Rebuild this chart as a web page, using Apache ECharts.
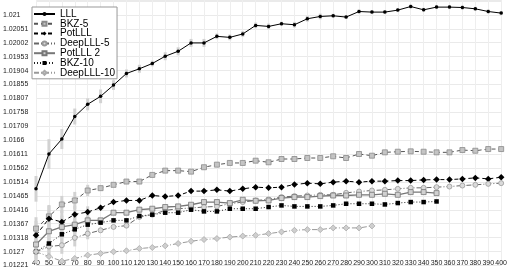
<!DOCTYPE html>
<html>
<head>
<meta charset="utf-8">
<script src="https://cdn.jsdelivr.net/npm/echarts@6/dist/echarts.min.js"></script>
<style>
html, body { margin: 0; padding: 0; background: #fff; }
#chart { width: 510px; height: 269px; }
</style>
</head>
<body>
<div id="chart"></div>
<script>
// x categories (block size)
const xLabels = ['40','50','60','70','80','90','100','110','120','130','140','150','160','170','180','190','200','210','220','230','240','250','260','270','280','290','300','310','320','330','340','350','360','370','380','390','400'];

// y tick labels (ticks every 1/2048)
const yTickLabels = ['1.01221','1.0127','1.01318','1.01367','1.01416','1.01465','1.01514','1.01562','1.01611','1.0166','1.01709','1.01758','1.01807','1.01855','1.01904','1.01953','1.02002','1.02051','1.021'];

const lll = [1.014896,1.016117,1.01664,1.017432,1.017861,1.01814,1.018534,1.018942,1.019106,1.019291,1.019546,1.01972,1.020013,1.020013,1.020243,1.020208,1.020327,1.020627,1.020592,1.020686,1.020651,1.02086,1.020941,1.020965,1.02092,1.021115,1.021094,1.021094,1.021164,1.02129,1.021174,1.021269,1.021269,1.021255,1.021209,1.021115,1.021059];
const bkz5 = [1.013501,1.01393,1.014348,1.014488,1.014837,1.01492,1.015036,1.015151,1.015151,1.015384,1.015534,1.015534,1.015499,1.015653,1.015744,1.015803,1.015803,1.015883,1.015827,1.015942,1.015942,1.015977,1.015977,1.016037,1.015977,1.016117,1.016058,1.016176,1.016197,1.016211,1.016197,1.016176,1.016176,1.016256,1.016232,1.016291,1.016291];
const potlll = [1.013267,1.01385,1.013735,1.014,1.014083,1.014233,1.014432,1.014488,1.014488,1.014662,1.014627,1.014662,1.014816,1.014816,1.014861,1.014816,1.014896,1.014955,1.014931,1.014955,1.015046,1.015095,1.01507,1.01513,1.015165,1.01513,1.015165,1.015165,1.015185,1.015185,1.01521,1.01522,1.01522,1.015245,1.01528,1.015245,1.015304];
const deeplll5 = [1.012688,1.012873,1.012918,1.013176,1.013326,1.013442,1.01356,1.013605,1.013909,1.013989,1.014139,1.014198,1.014223,1.014258,1.014279,1.014373,1.014432,1.014488,1.014523,1.014607,1.014641,1.014662,1.014687,1.014687,1.014756,1.014802,1.014837,1.014861,1.014896,1.014931,1.014931,1.014955,1.014976,1.015011,1.015036,1.01507,1.015095];
const potlll2 = [1.012943,1.013407,1.01356,1.01364,1.01379,1.01379,1.014059,1.014059,1.014164,1.014198,1.014258,1.014279,1.014338,1.014432,1.014432,1.014397,1.014512,1.014477,1.014488,1.014572,1.014607,1.014607,1.014641,1.014662,1.014662,1.014687,1.014687,1.014722,1.014687,1.014781,1.014781,1.014746];
const bkz10 = [1.012688,1.012978,1.013302,1.013476,1.01364,1.01371,1.01379,1.01379,1.013944,1.013989,1.014059,1.014059,1.014164,1.014104,1.014104,1.014198,1.014198,1.014198,1.014258,1.014314,1.014279,1.014279,1.014279,1.014314,1.014373,1.014373,1.014373,1.014348,1.014397,1.014432,1.014432,1.014453];
const deeplll10 = [1.012688,1.012524,1.01236,1.012454,1.01257,1.012629,1.012688,1.012723,1.012803,1.012838,1.012897,1.012978,1.013058,1.013117,1.013152,1.013204,1.013239,1.013267,1.013326,1.013386,1.013442,1.013466,1.013466,1.013525,1.013525,1.013525,1.013595];

// error bar half widths (only where visible)
const errLLL = [0.00045,0.00052,0.00035,0.00028,0.00021,0.00024,0.00017,0.00014,0.00014,0.0001,0.00014,0.00014,0.00014,0.00014,0.0001,0.0001,0.0001,0.0001,0.0001,0.00007,0.0001,0.0001,0.0001,0.00007,0.00007,0.00007,0.00007,0.00007,0.00007,0.00007,0.00007,0.00007,0.00007,0.00007,0.00007,0.00007,0.00007];
const errBKZ5 = [0.0004,0.0004,0.0003,0.0003,0.0002];
const errPotLLL = [0.0005,0.00045,0.0004,0.0003,0.0002];
const errDeep5 = [0.0004,0.0004,0.0003,0.0003,0.0002];
const errPot2 = [0.0005,0.00045,0.0004,0.0003,0.0002];
const errBKZ10 = [0.0004,0.0004,0.0003,0.0003,0.0002];

const yMin = 2073 / 2048;
const yStep = 1 / 2048;
const yMax = 2092.07 / 2048;

function bars(vals, errs) {
    return errs.map((e, i) => [i, vals[i] - e, vals[i] + e]);
}
const errData = [].concat(
    bars(lll, errLLL), bars(bkz5, errBKZ5), bars(potlll, errPotLLL),
    bars(deeplll5, errDeep5), bars(potlll2, errPot2), bars(bkz10, errBKZ10)
);

const myChart = echarts.init(document.getElementById('chart'));
myChart.setOption({
    animation: false,
    grid: { left: 35, right: 5, top: 0, bottom: 2 },
    legend: {
        orient: 'vertical',
        left: 32,
        top: 7,
        padding: [2, 2, 1, 1],
        itemWidth: 21,
        itemHeight: 5,
        itemGap: -0.2,
        backgroundColor: '#fff',
        borderColor: '#999',
        borderWidth: 1,
        borderRadius: 0,
        textStyle: { fontFamily: 'Liberation Sans', fontSize: 10, color: '#000' },
        data: ['LLL', 'BKZ-5', 'PotLLL', 'DeepLLL-5', 'PotLLL 2', 'BKZ-10', 'DeepLLL-10']
    },
    xAxis: {
        type: 'category',
        boundaryGap: false,
        data: xLabels,
        axisLine: { show: false },
        axisTick: { show: false },
        axisLabel: { interval: 0, fontSize: 7, margin: -6, color: '#222', fontFamily: 'Liberation Sans' },
        splitLine: { show: true, interval: 0, lineStyle: { color: '#eeeeee', width: 1 } }
    },
    yAxis: {
        type: 'value',
        min: yMin,
        max: yMax,
        interval: yStep,
        axisLine: { show: false },
        axisTick: { show: false },
        axisLabel: {
            align: 'left',
            margin: 33,
            fontSize: 7,
            color: '#222',
            fontFamily: 'Liberation Sans',
            formatter: function (v) {
                const k = (v - yMin) / yStep;
                const idx = Math.round(k);
                if (Math.abs(k - idx) > 0.01 || idx >= yTickLabels.length) return '';
                return yTickLabels[idx];
            }
        },
        splitLine: { lineStyle: { color: '#eaeaea', width: 1 } }
    },
    series: [
        {
            type: 'custom',
            name: 'err',
            silent: true,
            z: 1,
            data: errData,
            encode: { x: 0, y: [1, 2] },
            renderItem: function (params, api) {
                const lo = api.coord([api.value(0), api.value(1)]);
                const hi = api.coord([api.value(0), api.value(2)]);
                return {
                    type: 'rect',
                    shape: { x: lo[0] - 1.5, y: hi[1], width: 3, height: lo[1] - hi[1] },
                    style: { fill: '#d2d2d2' }
                };
            }
        },
        {
            name: 'LLL', type: 'line', data: lll, z: 5,
            symbol: 'circle', symbolSize: 3.5,
            lineStyle: { color: '#000', width: 1 },
            itemStyle: { color: '#000' }
        },
        {
            name: 'BKZ-5', type: 'line', data: bkz5, z: 4,
            symbol: 'rect', symbolSize: 5,
            lineStyle: { color: '#555', width: 1, type: [4, 3] },
            itemStyle: { color: '#c4c4c4', borderColor: '#8a8a8a', borderWidth: 0.8 }
        },
        {
            name: 'PotLLL', type: 'line', data: potlll, z: 4,
            symbol: 'diamond', symbolSize: 6.5,
            lineStyle: { color: '#000', width: 1, type: [4, 3] },
            itemStyle: { color: '#000' }
        },
        {
            name: 'DeepLLL-5', type: 'line', data: deeplll5, z: 4,
            symbol: 'circle', symbolSize: 5,
            lineStyle: { color: '#666', width: 1, type: [5, 2, 1, 2] },
            itemStyle: { color: '#dadada', borderColor: '#999', borderWidth: 0.8 }
        },
        {
            name: 'PotLLL 2', type: 'line', data: potlll2, z: 4,
            symbol: 'rect', symbolSize: 5,
            lineStyle: { color: '#777', width: 1.3 },
            itemStyle: { color: '#d0d0d0', borderColor: '#777', borderWidth: 0.8 }
        },
        {
            name: 'BKZ-10', type: 'line', data: bkz10, z: 4,
            symbol: 'rect', symbolSize: 4.5,
            lineStyle: { color: '#222', width: 1, type: [1, 2] },
            itemStyle: { color: '#000' }
        },
        {
            name: 'DeepLLL-10', type: 'line', data: deeplll10, z: 4,
            symbol: 'diamond', symbolSize: 6,
            lineStyle: { color: '#999', width: 1, type: [5, 2, 1, 2] },
            itemStyle: { color: '#cfcfcf', borderColor: '#aaa', borderWidth: 0.8 }
        }
    ]
});
</script>
</body>
</html>
